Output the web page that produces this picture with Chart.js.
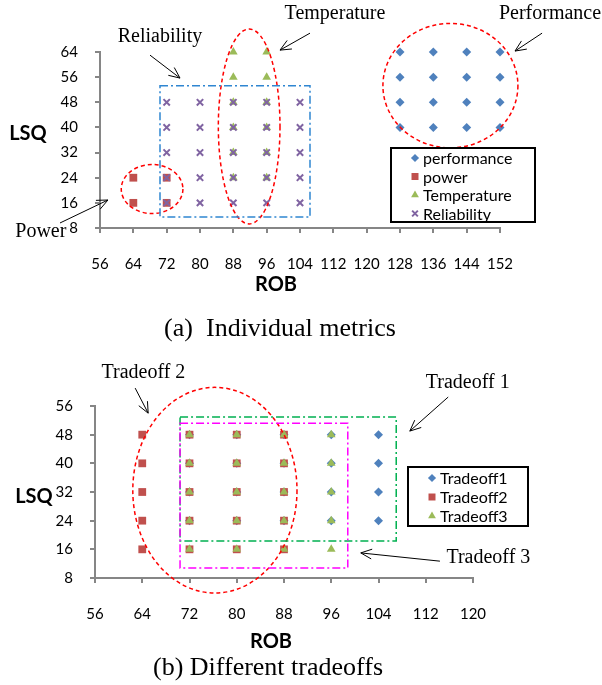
<!DOCTYPE html>
<html>
<head>
<meta charset="utf-8">
<script src="https://cdn.jsdelivr.net/npm/chart.js@4/dist/chart.umd.min.js"></script>
<style>
  body { margin: 0; background: #fff; width: 602px; height: 685px; position: relative; overflow: hidden; }
  canvas { position: absolute; left: 0; }
  .cap { position: absolute; font-family: 'Liberation Serif', serif; font-size: 26px; color: #000; white-space: pre; transform: translate(-50%, -50%); }
  .ax { position: absolute; font-family: Lato, sans-serif; font-weight: bold; font-size: 20px; color: #000; transform: translate(-50%, -50%); }
</style>
</head>
<body>
<canvas id="chartA" width="602" height="300" style="top:0"></canvas>
<canvas id="chartB" width="602" height="312" style="top:340px"></canvas>
<div class="ax" style="left:28px;top:132px">LSQ</div>
<div class="ax" style="left:276px;top:283px">ROB</div>
<div class="cap" style="left:280px;top:328px">(a)  Individual metrics</div>
<div class="ax" style="left:34px;top:495px">LSQ</div>
<div class="ax" style="left:271px;top:640px">ROB</div>
<div class="cap" style="left:268px;top:667px">(b) Different tradeoffs</div>
<script>
// ---- (a) individual metrics ----
var robTicksA = [56, 64, 72, 80, 88, 96, 104, 112, 120, 128, 136, 144, 152];
var lsqTicksA = [8, 16, 24, 32, 40, 48, 56, 64];

var performance = [
  [128, 64], [136, 64], [144, 64], [152, 64],
  [128, 56], [136, 56], [144, 56], [152, 56],
  [128, 48], [136, 48], [144, 48], [152, 48],
  [128, 40], [136, 40], [144, 40], [152, 40]
];
var power = [[64, 24], [64, 16], [72, 24], [72, 16]];
var temperature = [
  [88, 64], [96, 64], [88, 56], [96, 56], [88, 48], [96, 48],
  [88, 40], [96, 40], [88, 32], [96, 32], [88, 24], [96, 24]
];
var reliability = [
  [72, 48], [80, 48], [88, 48], [96, 48], [104, 48],
  [72, 40], [80, 40], [88, 40], [96, 40], [104, 40],
  [72, 32], [80, 32], [88, 32], [96, 32], [104, 32],
  [72, 24], [80, 24], [88, 24], [96, 24], [104, 24],
  [72, 16], [80, 16], [88, 16], [96, 16], [104, 16]
];

// ---- (b) different tradeoffs ----
var robTicksB = [56, 64, 72, 80, 88, 96, 104, 112, 120];
var lsqTicksB = [8, 16, 24, 32, 40, 48, 56];

var tradeoff1 = [
  [72, 48], [80, 48], [88, 48], [96, 48], [104, 48],
  [72, 40], [80, 40], [88, 40], [96, 40], [104, 40],
  [72, 32], [80, 32], [88, 32], [96, 32], [104, 32],
  [72, 24], [80, 24], [88, 24], [96, 24], [104, 24]
];
var tradeoff2 = [
  [64, 48], [72, 48], [80, 48], [88, 48],
  [64, 40], [72, 40], [80, 40], [88, 40],
  [64, 32], [72, 32], [80, 32], [88, 32],
  [64, 24], [72, 24], [80, 24], [88, 24],
  [64, 16], [72, 16], [80, 16], [88, 16]
];
var tradeoff3 = [
  [72, 48], [80, 48], [88, 48], [96, 48],
  [72, 40], [80, 40], [88, 40], [96, 40],
  [72, 32], [80, 32], [88, 32], [96, 32],
  [72, 24], [80, 24], [88, 24], [96, 24],
  [72, 16], [80, 16], [88, 16], [96, 16]
];

var BLUE = '#4F81BD', RED = '#C0504D', GREEN = '#9BBB59', PURPLE = '#8064A2';

function pts(arr) { return arr.map(function (p) { return { x: p[0], y: p[1] }; }); }

function series(label, arr, color, style, radius, order) {
  return {
    label: label, data: pts(arr), order: order, clip: false,
    pointStyle: style, pointRadius: radius, pointHoverRadius: radius,
    backgroundColor: color, borderColor: color,
    pointBorderWidth: style === 'crossRot' ? 2 : 0
  };
}

function axis(ticksArr, min, max, pad, fit) {
  return {
    type: 'linear', min: min, max: max,
    afterBuildTicks: function (s) { s.ticks = ticksArr.map(function (v) { return { value: v }; }); },
    afterFit: fit,
    ticks: { font: { family: 'Lato', size: 15 }, color: '#000', padding: pad, autoSkip: false, maxRotation: 0 },
    grid: { drawOnChartArea: false, drawTicks: true, tickLength: 5, color: '#868686', lineWidth: 2 },
    border: { color: '#868686', width: 2 }
  };
}

function arrow(ctx, x1, y1, x2, y2) {
  var a = Math.atan2(y2 - y1, x2 - x1), L = 12, s = 0.42;
  ctx.beginPath();
  ctx.moveTo(x1, y1); ctx.lineTo(x2, y2);
  ctx.moveTo(x2 - L * Math.cos(a - s), y2 - L * Math.sin(a - s));
  ctx.lineTo(x2, y2);
  ctx.lineTo(x2 - L * Math.cos(a + s), y2 - L * Math.sin(a + s));
  ctx.stroke();
}

// draws the dashed outlines, arrows, labels and the boxed legend
var overlay = {
  id: 'overlay',
  afterDraw: function (chart, args, o) {
    var ctx = chart.ctx, xs = chart.scales.x, ys = chart.scales.y;
    var X = function (v) { return xs.getPixelForValue(v); };
    var Y = function (v) { return ys.getPixelForValue(v); };
    ctx.save();
    (o.ellipses || []).forEach(function (e) {
      ctx.beginPath();
      ctx.setLineDash([4, 3]);
      ctx.lineWidth = 1.5;
      ctx.strokeStyle = '#FF0000';
      ctx.ellipse(X(e.x), Y(e.y), Math.abs(X(e.x + e.rx) - X(e.x)), Math.abs(Y(e.y + e.ry) - Y(e.y)), 0, 0, Math.PI * 2);
      ctx.stroke();
    });
    (o.boxes || []).forEach(function (b) {
      ctx.beginPath();
      ctx.setLineDash([8, 3, 2, 3]);
      ctx.lineWidth = 1.5;
      ctx.strokeStyle = b.color;
      ctx.rect(X(b.x1), Y(b.y2), X(b.x2) - X(b.x1), Y(b.y1) - Y(b.y2));
      ctx.stroke();
    });
    ctx.setLineDash([]);
    ctx.strokeStyle = '#000';
    ctx.lineWidth = 1;
    (o.arrows || []).forEach(function (a) { arrow(ctx, X(a[0]), Y(a[1]), X(a[2]), Y(a[3])); });
    ctx.fillStyle = '#000';
    ctx.font = '20px "Liberation Serif"';
    ctx.textAlign = 'center';
    ctx.textBaseline = 'middle';
    (o.labels || []).forEach(function (l) { ctx.fillText(l.text, X(l.x), Y(l.y)); });

    var lg = o.legend;
    if (lg) {
      ctx.lineWidth = 2;
      ctx.strokeStyle = '#000';
      ctx.fillStyle = '#fff';
      ctx.fillRect(lg.x, lg.y, lg.w, lg.h);
      ctx.strokeRect(lg.x, lg.y, lg.w, lg.h);
      ctx.font = '16px Lato';
      ctx.textAlign = 'left';
      chart.data.datasets.forEach(function (d, i) {
        var cy = lg.y + lg.first + i * lg.row;
        ctx.fillStyle = d.backgroundColor;
        ctx.strokeStyle = d.borderColor;
        ctx.lineWidth = d.pointBorderWidth;
        Chart.helpers.drawPoint(ctx, { pointStyle: d.pointStyle, radius: d.pointRadius * 0.9, borderWidth: d.pointBorderWidth, rotation: 0 }, lg.mx, cy);
        ctx.fillStyle = '#000';
        ctx.fillText(d.label, lg.tx, cy + 1);
      });
    }
    ctx.restore();
  }
};

new Chart(document.getElementById('chartA'), {
  type: 'scatter',
  data: {
    datasets: [
      series('performance', performance, BLUE, 'rectRot', 4.5, 4),
      series('power', power, RED, 'rect', 5.5, 3),
      series('Temperature', temperature, GREEN, 'triangle', 5, 2),
      series('Reliability', reliability, PURPLE, 'crossRot', 4.5, 1)
    ]
  },
  options: {
    responsive: false, animation: false, events: [],
    layout: { padding: { left: 0, top: 52, right: 102, bottom: 0 } },
    scales: {
      x: axis(robTicksA, 56, 152, 22, function (s) { s.height = 72; }),
      y: axis(lsqTicksA, 8, 64, 17, function (s) { s.width = 100; })
    },
    plugins: {
      legend: { display: false }, tooltip: { enabled: false },
      overlay: {
        ellipses: [
          { x: 68.5, y: 20.4, rx: 7.4, ry: 7.8 },
          { x: 91.8, y: 40.3, rx: 7.4, ry: 31 },
          { x: 140.1, y: 53.3, rx: 16.2, ry: 19.8 }
        ],
        boxes: [{ x1: 70.4, x2: 106.4, y1: 11.5, y2: 53.3, color: '#2F86D1' }],
        arrows: [
          [68, 63, 75.2, 55.7],
          [106.4, 70, 99.2, 64.6],
          [162.1, 70, 155.6, 64.3],
          [46.4, 9.6, 57.9, 16.9]
        ],
        labels: [
          { text: 'Reliability', x: 70.4, y: 68.8 },
          { text: 'Temperature', x: 112.4, y: 76.1 },
          { text: 'Performance', x: 164, y: 76.1 },
          { text: 'Power', x: 41.8, y: 6.7 }
        ],
        legend: { x: 391, y: 148, w: 144, h: 74, first: 10, row: 18.5, mx: 415, tx: 423 }
      }
    }
  },
  plugins: [overlay]
});

new Chart(document.getElementById('chartB'), {
  type: 'scatter',
  data: {
    datasets: [
      series('Tradeoff1', tradeoff1, BLUE, 'rectRot', 4.5, 3),
      series('Tradeoff2', tradeoff2, RED, 'rect', 5.5, 2),
      series('Tradeoff3', tradeoff3, GREEN, 'triangle', 5, 1)
    ]
  },
  options: {
    responsive: false, animation: false, events: [],
    layout: { padding: { left: 0, top: 66, right: 129, bottom: 0 } },
    scales: {
      x: axis(robTicksB, 56, 120, 22, function (s) { s.height = 74; }),
      y: axis(lsqTicksB, 8, 56, 17, function (s) { s.width = 95; })
    },
    plugins: {
      legend: { display: false }, tooltip: { enabled: false },
      overlay: {
        ellipses: [{ x: 76.3, y: 32.5, rx: 13.9, ry: 28.7 }],
        boxes: [
          { x1: 70.4, x2: 107, y1: 18.3, y2: 52.9, color: '#00B050' },
          { x1: 70.4, x2: 98.8, y1: 10.8, y2: 51.2, color: '#FF00FF' }
        ],
        arrows: [
          [62.8, 61, 65, 54],
          [115.8, 58.5, 109.3, 49],
          [114.4, 12.7, 101, 15]
        ],
        labels: [
          { text: 'Tradeoff 2', x: 64.2, y: 65.2 },
          { text: 'Tradeoff 1', x: 119.1, y: 62.4 },
          { text: 'Tradeoff 3', x: 122.6, y: 13.6 }
        ],
        legend: { x: 408, y: 127, w: 120, h: 59, first: 11, row: 19, mx: 432, tx: 440 }
      }
    }
  },
  plugins: [overlay]
});
</script>
</body>
</html>
